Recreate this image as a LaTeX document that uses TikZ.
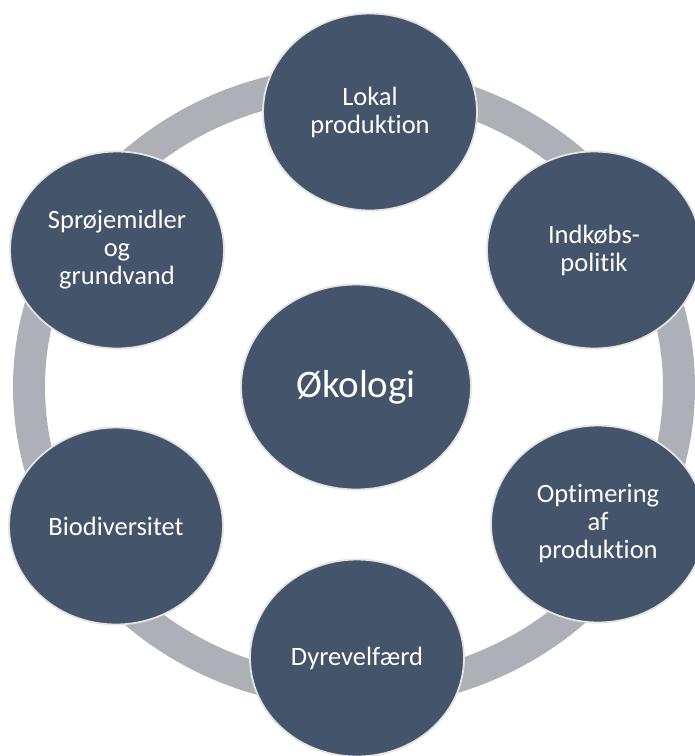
\documentclass[tikz,border=0pt]{standalone}
\usepackage{fontspec}
\setmainfont{Carlito}[Ligatures=NoCommon]
\usetikzlibrary{shapes.geometric}
\definecolor{slate}{HTML}{44546A}
\definecolor{ringgray}{HTML}{ADB0B7}
\definecolor{rimgray}{HTML}{E4E4E4}
\begin{document}
\begin{tikzpicture}[x=1pt,y=-1pt,
    topic/.style={draw=rimgray,line width=1.8pt,fill=slate,shape=ellipse,minimum width=214pt,minimum height=197pt,inner sep=0pt,text=white,align=center,font=\fontsize{26.5}{28}\selectfont},
    core/.style={topic,minimum width=230pt,minimum height=205pt,font=\fontsize{39}{44}\selectfont},
    ring/.style={draw=ringgray,line width=32pt}]
		    	\clip (0,0) rectangle (695,756);
		    	\coordinate (M) at (354,387);
		    	\draw[ring] (M) ellipse [x radius=325,y radius=305];
		    	
		    	\node[topic] (LP) at (370,112) {Lokal\\produktion};
		    	\node[topic] (IP) at (594,250) {Indkøbs-\\politik};
		    	\node[topic] (OP) at (598,524) {Optimering\\af\\produktion};
		    	\node[topic] (DV) at (357,658) {Dyrevelfærd};
		    	\node[topic] (BD) at (116,526) {Biodiversitet};
		    	\node[topic] (SG) at (117,250) {Sprøjemidler\\og\\grundvand};
		    	\node[core] (OK) at (356,387) {Økologi};
		    \end{tikzpicture}
\end{document}
